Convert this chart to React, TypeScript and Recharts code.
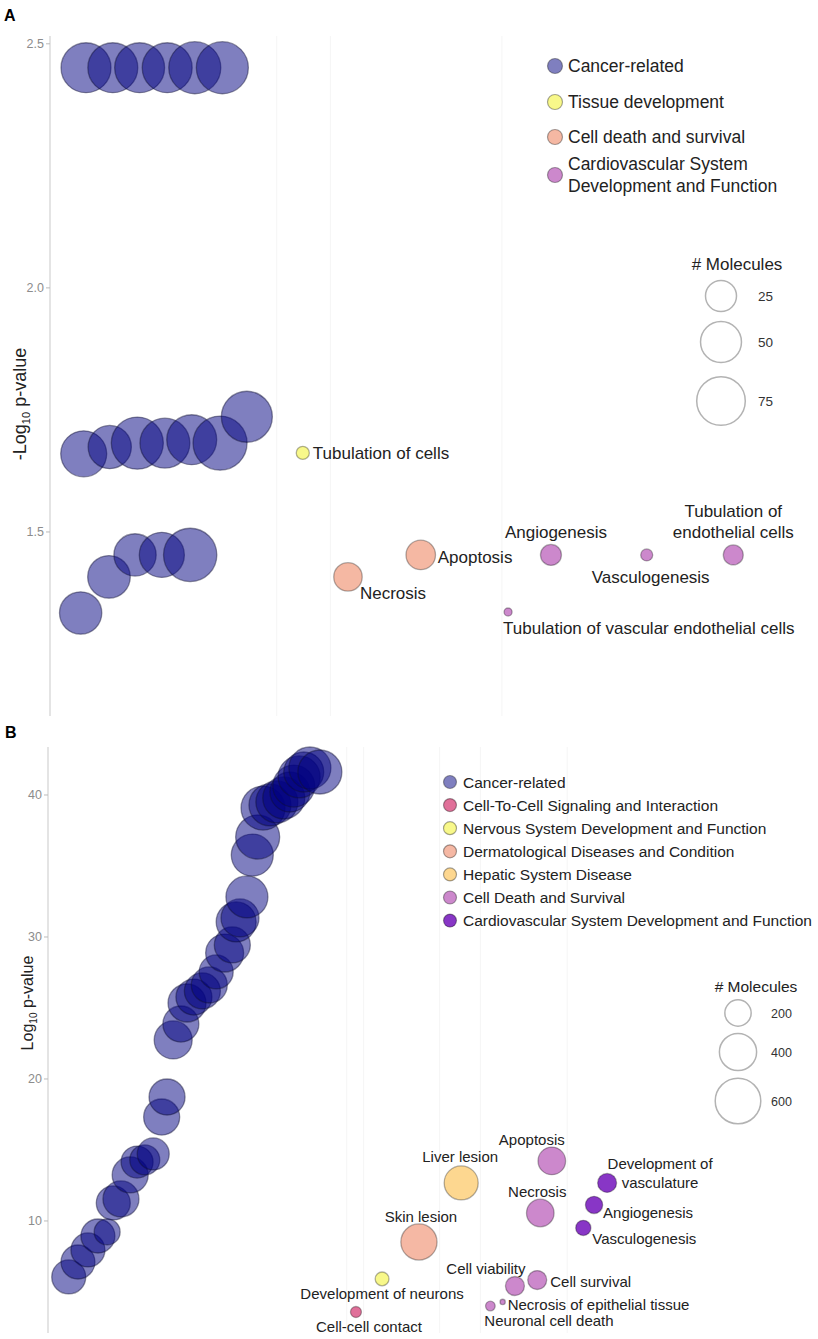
import React from "react";
import { ScatterChart, Scatter, XAxis, YAxis, ZAxis, ReferenceLine } from "recharts";

const FONT = '"Liberation Sans", Arial, Helvetica, sans-serif';

// ── Panel A data ──
const aCategories = [
  "Cancer-related",
  "Tissue development",
  "Cell death and survival",
  "Cardiovascular System\nDevelopment and Function",
];
const aColors = ["#000080", "#f8f88a", "#f5b8a3", "#cc88cc"];
const aOpacity = [0.5, 1, 1, 1];

const aTerms = [
  "", "", "", "", "", "",
  "", "", "", "", "", "", "",
  "", "", "", "", "",
  "Tubulation of cells",
  "Necrosis",
  "Apoptosis",
  "Angiogenesis",
  "Vasculogenesis",
  "Tubulation of\nendothelial cells",
  "Tubulation of vascular endothelial cells",
];
const aCategoryOf = [0, 0, 0, 0, 0, 0, 0, 0, 0, 0, 0, 0, 0, 0, 0, 0, 0, 0, 1, 2, 2, 3, 3, 3, 3];
const aRank = [
  4.7, 8.2, 11.7, 15.3, 18.9, 22.5,
  4.4, 7.8, 11.4, 15.0, 18.5, 22.2, 25.7,
  4.0, 7.7, 11.1, 14.6, 18.3,
  33.0, 38.9, 48.4, 65.4, 77.9, 89.2, 59.8,
];
const aLogP = [
  2.451, 2.451, 2.451, 2.451, 2.451, 2.451,
  1.66, 1.674, 1.682, 1.682, 1.689, 1.682, 1.736,
  1.334, 1.408, 1.453, 1.453, 1.453,
  1.662, 1.408, 1.453, 1.453, 1.453, 1.453, 1.336,
];
const aMolecules = [
  80, 80, 80, 80, 88, 88,
  66, 57, 88, 80, 80, 96, 84,
  54, 55, 54, 63, 93,
  1.6, 20, 22, 8.5, 1.1, 7.3, 0.05,
];
const aYTicks = [1.5, 2.0, 2.5];
const aSizeLegend = [25, 50, 75];
const aGrid = [29.6, 36.6, 59.0];

// ── Panel B data ──
const bCategories = [
  "Cancer-related",
  "Cell-To-Cell Signaling and Interaction",
  "Nervous System Development and Function",
  "Dermatological Diseases and Condition",
  "Hepatic System Disease",
  "Cell Death and Survival",
  "Cardiovascular System Development and Function",
];
const bColors = ["#000080", "#e07099", "#f8f88a", "#f5b8a4", "#fdd790", "#cc88cc", "#8836c6"];
const bOpacity = [0.5, 1, 1, 1, 1, 1, 1];

const bCancerRank = [
  2.7, 3.9, 5.2, 6.5, 7.7, 8.5, 9.5, 10.7, 11.6, 12.6, 13.7, 14.8, 15.5, 16.3, 17.3, 18.1, 19.0, 20.1, 21.0,
  21.9, 23.0, 24.0, 24.5, 25.0, 25.9, 26.6, 27.3, 28.0, 28.9, 29.8, 30.7, 31.5, 32.0, 32.7, 33.3, 34.1, 35.4,
];
const bCancerLogP = [
  6.06, 7.11, 7.96, 8.94, 9.23, 11.27, 11.55, 13.24, 14.15, 14.3, 14.72, 17.32, 18.73, 22.75, 23.87, 25.35,
  25.77, 26.2, 26.62, 27.54, 28.87, 29.44, 31.06, 31.34, 32.82, 35.77, 37.04, 39.08, 39.3, 39.51, 39.79,
  40.21, 40.63, 41.27, 41.62, 41.9, 41.62,
];
const bCancerMolecules = [
  334, 334, 334, 334, 195, 334, 375, 375, 296, 260, 296, 375, 375, 417, 375, 417, 375, 375, 375,
  334, 417, 375, 462, 417, 510, 510, 560, 560, 510, 510, 510, 462, 510, 510, 462, 510, 560,
];

const bTerms = [
  "Liver lesion",
  "Apoptosis",
  "Necrosis",
  "Skin lesion",
  "Development of\nvasculature",
  "Angiogenesis",
  "Vasculogenesis",
  "Development of neurons",
  "Cell-cell contact",
  "Cell viability",
  "Cell survival",
  "Neuronal cell death",
  "Necrosis of epithelial tissue",
];
const bCategoryOf = [4, 5, 5, 3, 6, 6, 6, 2, 1, 5, 5, 5, 5];
const bRank = [53.8, 65.6, 64.1, 48.3, 72.8, 71.1, 69.7, 43.5, 40.1, 60.8, 63.7, 57.6, 59.2];
const bLogP = [12.68, 14.23, 10.56, 8.52, 12.68, 11.13, 9.51, 5.92, 3.59, 5.42, 5.84, 4.01, 4.3];
const bMolecules = [334, 220, 220, 379, 104, 86, 67, 55, 35, 104, 104, 27, 8];
const bYTicks = [10, 20, 30, 40];
const bSizeLegend = [200, 400, 600];
const bGrid = [38.9, 41.1, 51.0, 56.3, 67.6];

// label placement (offset from bubble centre)
type Place = { dx: number; dy: number; anchor: "start" | "middle" | "end"; lh?: number };
const aPlaces: Record<string, Place> = {
  "Tubulation of cells": { dx: 10, dy: 6, anchor: "start" },
  Necrosis: { dx: 12, dy: 22, anchor: "start" },
  Apoptosis: { dx: 17, dy: 8, anchor: "start" },
  Angiogenesis: { dx: 5, dy: -17, anchor: "middle" },
  Vasculogenesis: { dx: 4, dy: 28, anchor: "middle" },
  "Tubulation of\nendothelial cells": { dx: 0, dy: -38, anchor: "middle", lh: 21 },
  "Tubulation of vascular endothelial cells": { dx: -5, dy: 22, anchor: "start" },
};
const bPlaces: Record<string, Place> = {
  "Liver lesion": { dx: -1, dy: -21, anchor: "middle" },
  Apoptosis: { dx: -20, dy: -16, anchor: "middle" },
  Necrosis: { dx: -3, dy: -16, anchor: "middle" },
  "Skin lesion": { dx: 2, dy: -20, anchor: "middle" },
  "Development of\nvasculature": { dx: 53, dy: -14, anchor: "middle", lh: 19 },
  Angiogenesis: { dx: 9, dy: 13, anchor: "start" },
  Vasculogenesis: { dx: 9, dy: 16, anchor: "start" },
  "Development of neurons": { dx: 0, dy: 20, anchor: "middle" },
  "Cell-cell contact": { dx: 13, dy: 20, anchor: "middle" },
  "Cell viability": { dx: -29, dy: -12, anchor: "middle" },
  "Cell survival": { dx: 13, dy: 7, anchor: "start" },
  "Neuronal cell death": { dx: -6, dy: 20, anchor: "start" },
  "Necrosis of epithelial tissue": { dx: 5, dy: 8, anchor: "start" },
};

// size scale: ZAxis maps molecules -> "area" units, bubble radius = r0 + sqrt(area)
const aSize = { zMax: 100, areaMax: 576, r0: 3.5 };
const bSize = { zMax: 1000, areaMax: 865, r0: 0 };
const legendRadius = (z: number, cfg: typeof aSize) => cfg.r0 + Math.sqrt((z / cfg.zMax) * cfg.areaMax);

type Pt = { x: number; y: number; z: number; name: string };

function pick(names: string[], cats: number[], xs: number[], ys: number[], zs: number[], c: number): Pt[] {
  const out: Pt[] = [];
  names.forEach((n, i) => {
    if (cats[i] === c) out.push({ x: xs[i], y: ys[i], z: zs[i], name: n });
  });
  return out;
}

function makeBubble(color: string, opacity: number, r0: number, places: Record<string, Place>, fontSize: number) {
  return (p: any) => {
    const { cx, cy, payload } = p;
    const area = typeof p.size === "number" ? p.size : Math.PI * Math.pow((p.width ?? 0) / 2, 2);
    const r = r0 + Math.sqrt(Math.max(area, 0));
    const place = payload && places[payload.name];
    const stroke = opacity < 1 ? "rgba(15,15,50,0.45)" : "rgba(0,0,0,0.3)";
    return (
      <g>
        <circle cx={cx} cy={cy} r={r} fill={color} fillOpacity={opacity} stroke={stroke} strokeWidth={1.3} />
        {place &&
          String(payload.name)
            .split("\n")
            .map((line: string, i: number) => (
              <text
                key={i}
                x={cx + place.dx}
                y={cy + place.dy + i * (place.lh ?? 0)}
                textAnchor={place.anchor}
                fontSize={fontSize}
                fill="#222"
                fontFamily={FONT}
              >
                {line}
              </text>
            ))}
      </g>
    );
  };
}

const axisLine = { stroke: "#e4e4e4", strokeWidth: 2 };
const tickStyle = { fontSize: 12.5, fill: "#8c8c8c", fontFamily: FONT };

function PanelA() {
  return (
    <ScatterChart width={818} height={724} margin={{ top: 36, right: 2, bottom: 8, left: 0 }}>
      <XAxis type="number" dataKey="x" domain={[0, 100]} tick={false} tickLine={false} height={0} axisLine={axisLine} />
      <YAxis
        type="number"
        dataKey="y"
        domain={[1.123, 2.516]}
        ticks={aYTicks}
        tickFormatter={(v: number) => v.toFixed(1)}
        width={50}
        tickSize={4}
        tickLine={{ stroke: "#bbb" }}
        axisLine={axisLine}
        tick={tickStyle}
      />
      <ZAxis type="number" dataKey="z" domain={[0, aSize.zMax]} range={[0, aSize.areaMax]} />
      {aGrid.map((g) => (
        <ReferenceLine key={g} x={g} stroke="#f5f5f5" strokeWidth={1} />
      ))}
      {aCategories.map((c, i) => (
        <Scatter
          key={c}
          name={c}
          data={pick(aTerms, aCategoryOf, aRank, aLogP, aMolecules, i)}
          isAnimationActive={false}
          shape={makeBubble(aColors[i], aOpacity[i], aSize.r0, aPlaces, 17)}
        />
      ))}
    </ScatterChart>
  );
}

function PanelB() {
  const cancer: Pt[] = bCancerRank.map((x, i) => ({ x, y: bCancerLogP[i], z: bCancerMolecules[i], name: "" }));
  return (
    <ScatterChart width={818} height={615} margin={{ top: 23, right: 2, bottom: 6, left: 0 }}>
      <XAxis type="number" dataKey="x" domain={[0, 100]} tick={false} tickLine={false} height={0} axisLine={axisLine} />
      <YAxis
        type="number"
        dataKey="y"
        domain={[2.11, 43.38]}
        ticks={bYTicks}
        width={48}
        tickSize={4}
        tickLine={{ stroke: "#bbb" }}
        axisLine={axisLine}
        tick={tickStyle}
      />
      <ZAxis type="number" dataKey="z" domain={[0, bSize.zMax]} range={[0, bSize.areaMax]} />
      {bGrid.map((g) => (
        <ReferenceLine key={g} x={g} stroke="#f5f5f5" strokeWidth={1} />
      ))}
      {bCategories.map((c, i) => (
        <Scatter
          key={c}
          name={c}
          data={i === 0 ? cancer : pick(bTerms, bCategoryOf, bRank, bLogP, bMolecules, i)}
          isAnimationActive={false}
          shape={makeBubble(bColors[i], bOpacity[i], bSize.r0, bPlaces, 15)}
        />
      ))}
    </ScatterChart>
  );
}

function Overlay() {
  const aRows = [66, 102, 137, 175];
  const aSizeRows = [296, 342, 401];
  const bSizeRows = [1013, 1052, 1101];
  return (
    <svg
      width={818}
      height={1339}
      style={{ position: "absolute", left: 0, top: 0, pointerEvents: "none" }}
      fontFamily={FONT}
    >
      <text x={4} y={21} fontSize={16} fontWeight="bold" fill="#000">A</text>
      <text x={5} y={738} fontSize={16} fontWeight="bold" fill="#000">B</text>

      <text transform="translate(26,404) rotate(-90)" textAnchor="middle" fontSize={18} fill="#222">
        -Log<tspan fontSize={11} dy={4}>10</tspan>
        <tspan dy={-4}> p-value</tspan>
      </text>
      <text transform="translate(33,1003) rotate(-90)" textAnchor="middle" fontSize={16} fill="#222">
        Log<tspan fontSize={10} dy={4}>10</tspan>
        <tspan dy={-4}> p-value</tspan>
      </text>

      {/* panel A legend */}
      {aCategories.map((c, i) => {
        const lines = c.split("\n");
        const top = aRows[i] - ((lines.length - 1) * 22) / 2;
        return (
          <g key={c}>
            <circle cx={555} cy={aRows[i]} r={7.5} fill={aColors[i]} fillOpacity={aOpacity[i]} stroke="rgba(0,0,0,0.35)" strokeWidth={1.2} />
            {lines.map((l, j) => (
              <text key={j} x={568} y={top + j * 22 + 6} fontSize={17.5} fill="#222">{l}</text>
            ))}
          </g>
        );
      })}
      <text x={737} y={270} textAnchor="middle" fontSize={17} fill="#222"># Molecules</text>
      {aSizeLegend.map((z, i) => (
        <g key={z}>
          <circle cx={721} cy={aSizeRows[i]} r={legendRadius(z, aSize)} fill="none" stroke="#b3b3b3" strokeWidth={1.5} />
          <text x={758} y={aSizeRows[i] + 5} fontSize={13.5} fill="#333">{z}</text>
        </g>
      ))}

      {/* panel B legend */}
      {bCategories.map((c, i) => (
        <g key={c}>
          <circle cx={450} cy={782 + i * 23.1} r={6.5} fill={bColors[i]} fillOpacity={bOpacity[i]} stroke="rgba(0,0,0,0.35)" strokeWidth={1.2} />
          <text x={463} y={782 + i * 23.1 + 5.5} fontSize={15.5} fill="#222">{c}</text>
        </g>
      ))}
      <text x={756} y={992} textAnchor="middle" fontSize={15.5} fill="#222"># Molecules</text>
      {bSizeLegend.map((z, i) => (
        <g key={z}>
          <circle cx={738} cy={bSizeRows[i]} r={legendRadius(z, bSize)} fill="none" stroke="#b3b3b3" strokeWidth={1.5} />
          <text x={771} y={bSizeRows[i] + 4.5} fontSize={12.5} fill="#333">{z}</text>
        </g>
      ))}
    </svg>
  );
}

export default function App() {
  return (
    <div style={{ position: "absolute", left: 0, top: 0, width: 818, height: 1339, background: "#fff", overflow: "hidden" }}>
      <div style={{ position: "absolute", left: 0, top: 0 }}>
        <PanelA />
      </div>
      <div style={{ position: "absolute", left: 0, top: 724 }}>
        <PanelB />
      </div>
      <Overlay />
    </div>
  );
}
